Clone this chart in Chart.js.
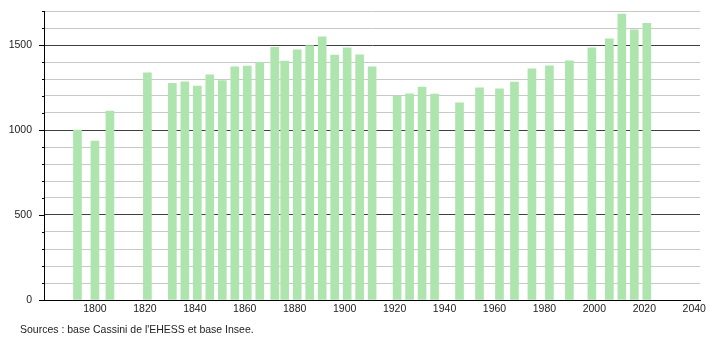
<!DOCTYPE html>
<html><head><meta charset="utf-8">
<script src="https://cdn.jsdelivr.net/npm/chart.js@4.4.1/dist/chart.umd.min.js"></script>
<style>
html,body{margin:0;padding:0;background:#fff;}
#wrap{position:relative;width:710px;height:340px;}
#src{position:absolute;left:20px;top:323px;font:10.5px "Liberation Sans",Arial,sans-serif;line-height:12px;color:#222;white-space:nowrap;}
</style></head><body>
<div id="wrap"><canvas id="c"></canvas><div id="src">Sources : base Cassini de l'EHESS et base Insee.</div></div>
<script>
const years = [1793,1800,1806,1821,1831,1836,1841,1846,1851,1856,1861,1866,1872,1876,1881,1886,1891,1896,1901,1906,1911,1921,1926,1931,1936,1946,1954,1962,1968,1975,1982,1990,1999,2006,2011,2016,2021];
const population = [1000,935,1112,1336,1274,1283,1258,1324,1290,1371,1376,1398,1487,1406,1471,1496,1548,1441,1483,1442,1371,1200,1213,1253,1212,1160,1248,1242,1282,1360,1377,1407,1483,1536,1682,1589,1627];
const xTickYears = [1800,1820,1840,1860,1880,1900,1920,1940,1960,1980,2000,2020,2040];
const yTickValues = [0,100,200,300,400,500,600,700,800,900,1000,1100,1200,1300,1400,1500,1600,1700];
const yMajorStep = 500;

const FONT = {family:'"Liberation Sans", Arial, sans-serif', size:10.5};

const tickMarks = {
  id:'tickMarks',
  afterDraw(chart){
    const ctx = chart.ctx, y = chart.scales.y, left = chart.chartArea.left;
    ctx.save();
    ctx.strokeStyle = '#000';
    ctx.lineWidth = 1;
    yTickValues.forEach(v=>{
      const py = Math.round(y.getPixelForValue(v)) + 0.5;
      const len = v % yMajorStep === 0 ? 5 : 2;
      ctx.beginPath();
      ctx.moveTo(left - len, py);
      ctx.lineTo(left, py);
      ctx.stroke();
    });
    ctx.restore();
  }
};

new Chart(document.getElementById('c'), {
  type:'bar',
  data:{
    datasets:[{
      data: years.map((yr,i)=>({x:yr, y:population[i]})),
      backgroundColor:'#aee4ae',
      borderWidth:0,
      barThickness:8
    }]
  },
  options:{
    responsive:true,
    maintainAspectRatio:false,
    animation:false,
    layout:{padding:{left:0,right:10,top:11,bottom:0}},
    plugins:{legend:{display:false},tooltip:{enabled:false},title:{display:false}},
    scales:{
      x:{
        type:'linear',
        offset:false,
        min:1779.6,
        max:2042.3,
        grid:{display:false,drawTicks:false,offset:false},
        border:{display:true,color:'#000',width:1},
        afterBuildTicks(s){ s.ticks = xTickYears.map(v=>({value:v})); },
        afterFit(s){ s.height = 40; s.paddingLeft = 0; s.paddingRight = 0; },
        ticks:{font:FONT,color:'#222',padding:3,maxRotation:0,autoSkip:false,callback:v=>String(v)}
      },
      y:{
        min:0,
        max:1700,
        grid:{drawTicks:false,color:c=> (c.tick && c.tick.value % yMajorStep === 0) ? '#404040' : '#c8c8c8', lineWidth:1},
        border:{display:true,color:'#000',width:1},
        afterBuildTicks(s){ s.ticks = yTickValues.map(v=>({value:v})); },
        afterFit(s){ s.width = 44; s.paddingTop = 0; s.paddingBottom = 0; },
        ticks:{font:FONT,color:'#222',padding:12,autoSkip:false,callback:v=> v % yMajorStep === 0 ? String(v) : ''}
      }
    }
  },
  plugins:[tickMarks]
});
</script>
</body></html>
